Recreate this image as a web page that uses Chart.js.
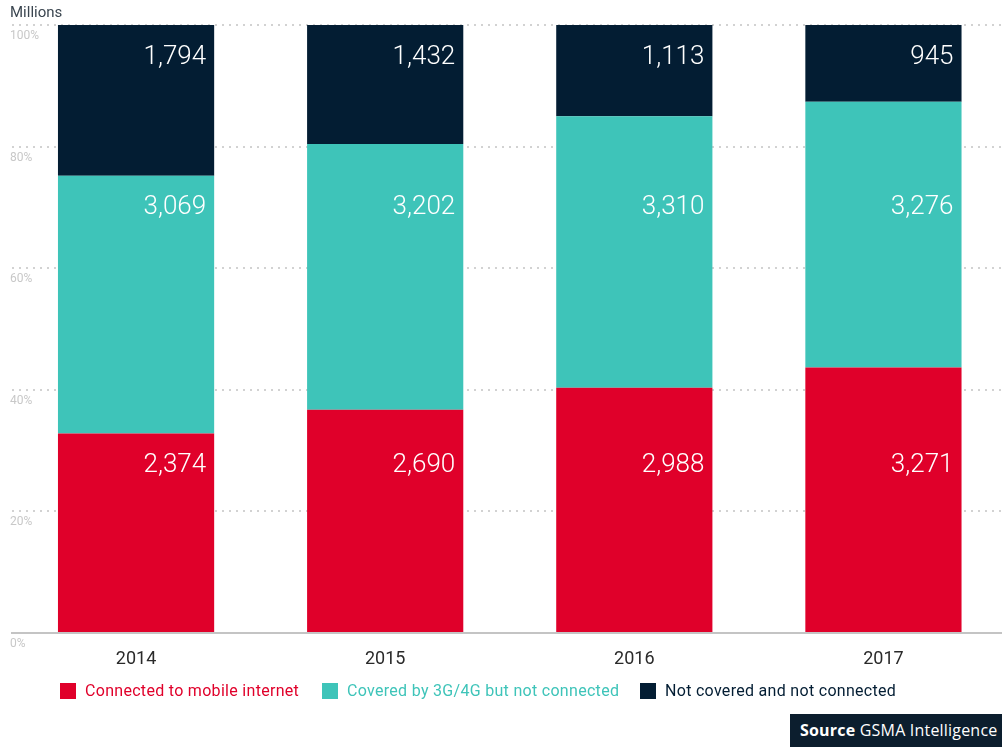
<!DOCTYPE html>
<html>
<head>
<meta charset="utf-8">
<script src="https://cdn.jsdelivr.net/npm/chart.js@4"></script>
<style>
  body { margin: 0; background: #fff; font-family: Roboto, "Noto Sans", sans-serif; }
  #wrap { position: relative; width: 1002px; height: 747px; overflow: hidden; }
  #chart { position: absolute; left: 0; top: 0; }
  .unit { position: absolute; left: 10px; top: 3px; font-size: 15px; color: #3b4650; }
  .leg { position: absolute; top: 682px; font-size: 16px; line-height: 18px; letter-spacing: 0.3px; }
  .leg span.sq { position: absolute; left: 0; top: 1px; width: 16px; height: 16px; }
  .leg span.tx { position: absolute; left: 25px; top: 0; white-space: nowrap; }
  .src { position: absolute; left: 790px; top: 714px; width: 220px; height: 33px; background: #0c1e2e;
         color: #fff; font-family: "Open Sans", sans-serif; font-size: 16px; line-height: 33px;
         padding-left: 10px; box-sizing: border-box; white-space: nowrap; letter-spacing: 0.2px; }
</style>
</head>
<body>
<div id="wrap">
  <canvas id="chart" width="1008" height="747"></canvas>
  <div class="unit">Millions</div>
  <div class="leg" style="left:60px"><span class="sq" style="background:#e0002a"></span><span class="tx" style="color:#e0002a">Connected to mobile internet</span></div>
  <div class="leg" style="left:322px"><span class="sq" style="background:#3ec4b9"></span><span class="tx" style="color:#3ec4b9">Covered by 3G/4G but not connected</span></div>
  <div class="leg" style="left:640px"><span class="sq" style="background:#031d33"></span><span class="tx" style="color:#031d33">Not covered and not connected</span></div>
  <div class="src"><b>Source</b> GSMA Intelligence</div>
</div>
<script>
'use strict';
let years = ['2014', '2015', '2016', '2017'];
let connected = [2374, 2690, 2988, 3271];
let covered = [3069, 3202, 3310, 3276];
let notCovered = [1794, 1432, 1113, 945];
let yTicks = [0, 20, 40, 60, 80, 100];

let red = '#e0002a';
let teal = '#3ec4b9';
let navy = '#031d33';

// share of each year's total, in percent
function toPct(arr) {
    let out = [];
    for (let i = 0; i < arr.length; i++) {
        let total = connected[i] + covered[i] + notCovered[i];
        out.push(arr[i] / total * 100);
    }
    return out;
}

let rawValues = [connected, covered, notCovered];

// labels sit on one row per series, lined up with the first bar
let valueLabels = {
    id: 'valueLabels',
    afterDatasetsDraw(chart) {
        let ctx = chart.ctx;
        ctx.save();
        ctx.fillStyle = '#fff';
        ctx.font = '300 26px Roboto, "Noto Sans", sans-serif';
        ctx.textAlign = 'right';
        ctx.textBaseline = 'middle';
        chart.data.datasets.forEach(function (ds, d) {
            let bars = chart.getDatasetMeta(d).data;
            let rowY = bars[0].y + 32;
            bars.forEach(function (bar, i) {
                let right = bar.x + bar.width / 2;
                ctx.fillText(rawValues[d][i].toLocaleString('en-US'), right - 8, rowY);
            });
        });
        ctx.restore();
    }
};

let yLabels = {
    id: 'yLabels',
    afterDraw(chart) {
        let ctx = chart.ctx;
        let y = chart.scales.y;
        ctx.save();
        ctx.fillStyle = '#c8c8c8';
        ctx.font = '12px Roboto, "Noto Sans", sans-serif';
        ctx.textAlign = 'left';
        ctx.textBaseline = 'middle';
        yTicks.forEach(function (t) {
            ctx.fillText(t + '%', 10, y.getPixelForValue(t) + 11);
        });
        ctx.restore();
    }
};

let ctx = document.getElementById('chart').getContext('2d');
let myChart = new Chart(ctx, {
    type: 'bar',
    data: {
        labels: years,
        datasets: [
            { label: 'Connected to mobile internet', data: toPct(connected), backgroundColor: red },
            { label: 'Covered by 3G/4G but not connected', data: toPct(covered), backgroundColor: teal },
            { label: 'Not covered and not connected', data: toPct(notCovered), backgroundColor: navy }
        ]
    },
    options: {
        responsive: false,
        animation: false,
        layout: { padding: { top: 25, left: 11.5, right: 0, bottom: 0 } },
        datasets: { bar: { barPercentage: 0.627, categoryPercentage: 1 } },
        plugins: { legend: { display: false }, tooltip: { enabled: false } },
        scales: {
            x: {
                stacked: true,
                grid: { display: false },
                border: { display: true, color: '#c4c4c4', width: 2 },
                ticks: { color: '#2a2a2a', padding: 8, font: { size: 18, family: 'Roboto' } },
                afterFit(scale) { scale.height = 114; }
            },
            y: {
                stacked: true,
                min: 0,
                max: 100,
                afterBuildTicks(scale) { scale.ticks = yTicks.map(function (v) { return { value: v }; }); },
                ticks: { display: false },
                grid: {
                    drawTicks: false,
                    lineWidth: 2,
                    color: function (c) { return c.tick && c.tick.value === 0 ? 'rgba(0,0,0,0)' : '#d2d2d2'; }
                },
                border: { display: false, dash: [2, 5] },
                afterFit(scale) { scale.width = 0; }
            }
        }
    },
    plugins: [valueLabels, yLabels]
});
</script>
</body>
</html>
